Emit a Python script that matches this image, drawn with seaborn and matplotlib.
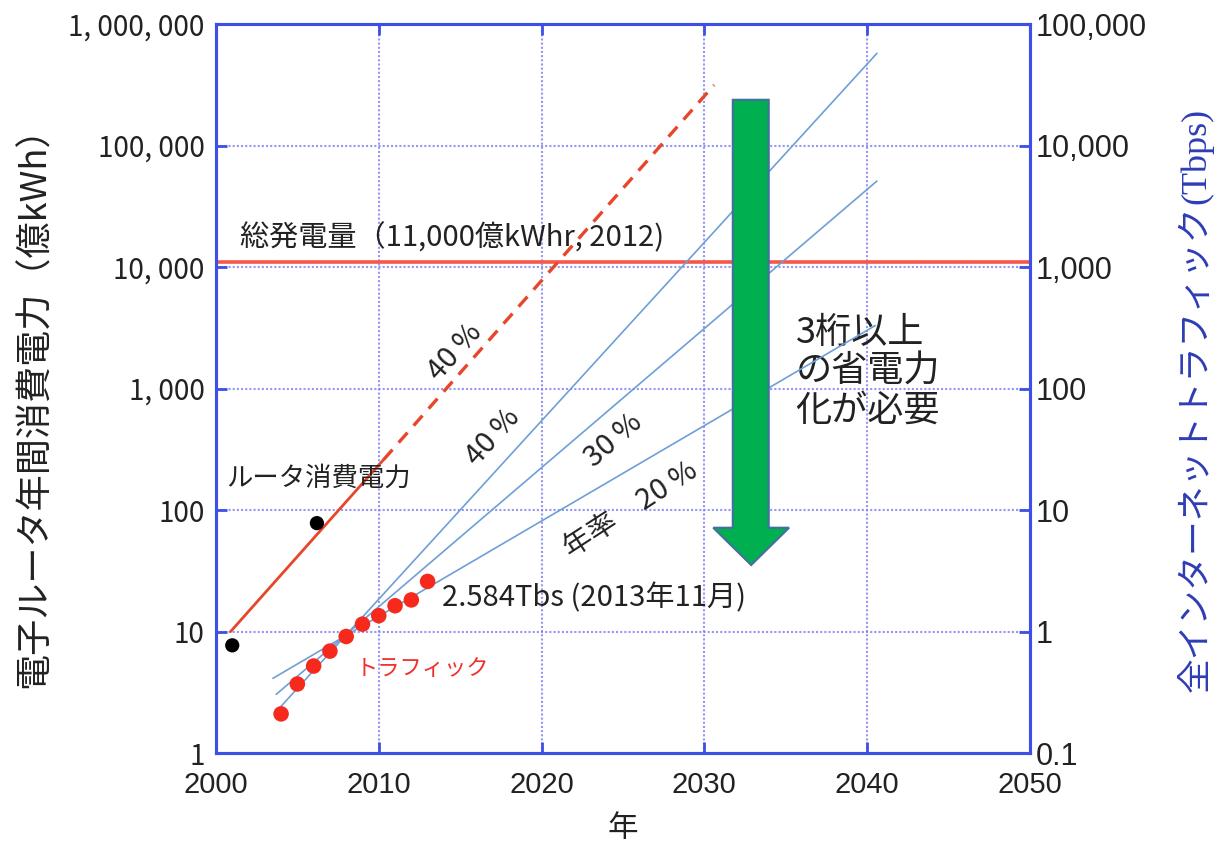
import matplotlib
matplotlib.use("Agg")
import matplotlib.pyplot as plt
from matplotlib.patches import Polygon
from matplotlib.ticker import NullLocator
import seaborn as sns

# ---------------- data ----------------
# router annual power consumption (億kWh)
router_years = [2001.0, 2006.2]
router_power = [7.7, 78.0]

# 40 %/year trend of router power: fitted part and extrapolation
router_fit_years = [2000.9, 2010.3]
router_fit_power = [10.0, 260.0]
router_proj_years = [2010.3, 2030.6]
router_proj_power = [260.0, 315000.0]

# total domestic electricity generation (億kWh, 2012)
total_generation = 11000

# total internet traffic (Tbps)
traffic_years = [2004, 2005, 2006, 2007, 2008, 2009, 2010, 2011, 2012, 2013]
traffic_tbps = [0.21, 0.37, 0.52, 0.69, 0.91, 1.15, 1.35, 1.63, 1.82, 2.584]

# traffic growth scenarios (Tbps), 40 % / 30 % / 20 % per year
growth_names = ["40 %", "30 %", "20 %"]
growth_years = [[2003.6, 2040.6], [2003.7, 2040.6], [2003.5, 2040.5]]
growth_tbps = [[0.212, 57400.0], [0.304, 5100.0], [0.412, 330.0]]

x_ticks = [2000, 2010, 2020, 2030, 2040, 2050]
left_ticks = [1, 10, 100, 1000, 10000, 100000, 1000000]
left_tick_labels = ["1", "10", "100", "1, 000", "10, 000", "100, 000", "1, 000, 000"]
right_ticks = [0.1, 1, 10, 100, 1000, 10000, 100000]
right_tick_labels = ["0.1", "1", "10", "100", "1,000", "10,000", "100,000"]

# ---------------- style ----------------
sns.set_theme(style="white")
plt.rcParams["font.family"] = ["Noto Sans CJK JP", "DejaVu Sans"]

FRAME = "#3D4FE6"
GRID = "#7C7CF2"
TEXT = "#222222"
RED_LINE = "#E8462A"
RED_DOT = "#F52A1C"
BLUE_LINE = "#6E9FD6"

fig = plt.figure(figsize=(12.16, 8.61), dpi=100)
ax = fig.add_axes([0.1776, 0.1254, 0.6694, 0.8467])
ax.set_yscale("log")
ax.set_xlim(2000, 2050)
ax.set_ylim(1, 1e6)

ax2 = ax.twinx()
ax2.set_yscale("log")
ax2.set_ylim(0.1, 1e5)

# grid
ax.grid(True, which="major", color=GRID, linestyle=(0, (1.0, 1.0)), linewidth=1.5,
        alpha=0.8)
ax.set_axisbelow(True)

# total generation level
ax.axhline(total_generation, color="#F5574A", linewidth=2.6, zorder=2)

# router power: measurements, trend and extrapolation
sns.lineplot(x=router_fit_years, y=router_fit_power, ax=ax, color=RED_LINE,
             linewidth=2.0, zorder=3)
sns.lineplot(x=router_proj_years, y=router_proj_power, ax=ax, color=RED_LINE,
             linewidth=2.4, zorder=3)
ax.lines[-1].set_dashes([4, 2.8])
sns.scatterplot(x=router_years, y=router_power, ax=ax, color="black", s=105,
                edgecolor="none", zorder=4)

# traffic growth scenarios and measured traffic
for yrs, vals in zip(growth_years, growth_tbps):
    sns.lineplot(x=yrs, y=vals, ax=ax2, color=BLUE_LINE, linewidth=1.2, zorder=2)
sns.scatterplot(x=traffic_years, y=traffic_tbps, ax=ax2, color=RED_DOT, s=125,
                edgecolor="none", zorder=4)

# big green arrow (axes coordinates)
arrow = Polygon([(0.635, 0.896), (0.679, 0.896), (0.679, 0.309), (0.704, 0.309),
                 (0.6575, 0.258), (0.611, 0.309), (0.635, 0.309)],
                closed=True, transform=ax2.transAxes, facecolor="#00B050",
                edgecolor="#41719C", linewidth=1.6, zorder=5)
ax2.add_patch(arrow)

# ---------------- axes cosmetics ----------------
for a in (ax, ax2):
    for sp in a.spines.values():
        sp.set_color(FRAME)
        sp.set_linewidth(2.2)
        sp.set_visible(True)

ax.set_xticks(x_ticks)
ax.set_xticklabels([str(v) for v in x_ticks], fontsize=21,
                   fontfamily=["Liberation Sans", "DejaVu Sans"], color=TEXT)
ax.set_yticks(left_ticks)
ax.set_yticklabels(left_tick_labels, fontsize=20, color=TEXT)
ax.yaxis.set_minor_locator(NullLocator())
ax.xaxis.set_minor_locator(NullLocator())
ax.tick_params(axis="x", direction="in", bottom=True, top=True, length=8, width=2,
               color=FRAME, pad=13)
ax.tick_params(axis="y", direction="in", left=True, right=False, length=8, width=2,
               color=FRAME, pad=8)

ax2.set_yticks(right_ticks)
ax2.set_yticklabels(right_tick_labels, fontsize=22,
                    fontfamily=["Liberation Sans", "DejaVu Sans"], color=TEXT)
ax2.yaxis.set_minor_locator(NullLocator())
ax2.tick_params(axis="y", direction="in", right=True, left=False, length=8, width=2,
                color=FRAME, pad=4)

ax.set_xlabel("年", fontsize=22, color=TEXT, labelpad=10)
ax.set_ylabel("")
ax2.set_ylabel("")

fig.text(0.029, 0.538, "電子ルータ年間消費電力（億kWh）", rotation=90, ha="center",
         va="center", fontsize=26, color=TEXT)
jp_label = fig.text(0.984, 0.196, "全インターネットトラフィック", rotation=90,
                    ha="center", va="bottom", fontsize=25, color="#2E3DB5")
fig.canvas.draw()
bb = jp_label.get_window_extent()
fig.text(0.984, bb.y1 / fig.bbox.height + 0.002, "(Tbps)", rotation=90, ha="center",
         va="bottom", fontsize=26, color="#2E3DB5",
         fontfamily=["Liberation Serif", "DejaVu Serif"])

# ---------------- annotations ----------------
ax.text(2001.47, 17300, "総発電量（11,000億kWhr, 2012)", fontsize=21, color=TEXT,
        ha="left", va="center", zorder=6)
ax.text(2006.3, 183, "ルータ消費電力", fontsize=19, color=TEXT, ha="center",
        va="center", zorder=6)
ax.text(2012.7, 5.0, "トラフィック", fontsize=16, color="#F0302A", ha="center",
        va="center", zorder=6)
ax2.text(2013.9, 1.89, "2.584Tbs (2013年11月)", fontsize=21, color=TEXT,
         ha="left", va="center", zorder=6)

ax.text(2014.7, 1995, "40 %", fontsize=21, color=TEXT, rotation=48, ha="center",
        va="center", rotation_mode="anchor", zorder=6)
ax.text(2017.0, 399, growth_names[0], fontsize=21, color=TEXT, rotation=48,
        ha="center", va="center", rotation_mode="anchor", zorder=6)
ax.text(2024.4, 377, growth_names[1], fontsize=21, color=TEXT, rotation=41,
        ha="center", va="center", rotation_mode="anchor", zorder=6)
ax.text(2025.5, 100, "年率　" + growth_names[2], fontsize=21, color=TEXT, rotation=33,
        ha="center", va="center", rotation_mode="anchor", zorder=6)

ax.text(2035.6, 1370, "3桁以上\nの省電力\n化が必要", fontsize=26, color=TEXT,
        ha="left", va="center", linespacing=1.1, zorder=6)

fig.savefig("out.png", dpi=100)
